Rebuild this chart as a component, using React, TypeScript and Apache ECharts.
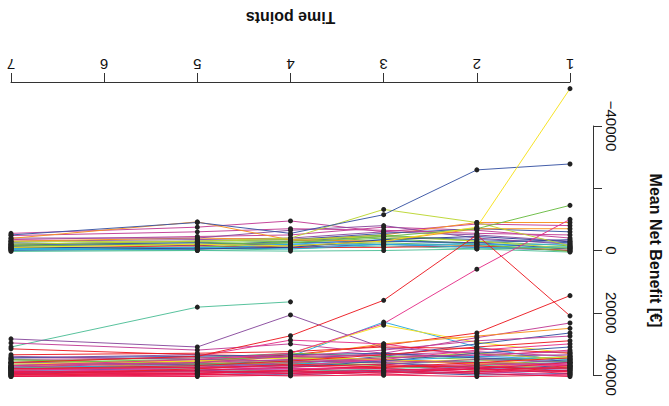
import React, { useEffect, useRef } from "react";
import * as echarts from "echarts";

const timePoints = [1, 2, 3, 4, 5, 7];

const C = {
  yellow: "#f7e21b",
  blue: "#3a55a4",
  navy: "#2e3f94",
  green: "#6cbd45",
  lime: "#bcd631",
  teal: "#4fbf98",
  cyan: "#29a9e0",
  purple: "#8a4c9e",
  magenta: "#c23d96",
  pink: "#e5318a",
  red: "#ec1c24",
  crimson: "#e8174c",
  orange: "#f7901e",
};

// values at time points [1, 2, 3, 4, 5, 7]
const upperGroup: [string, (number | null)[]][] = [
  [C.blue, [-2500, -3500, -4500, -3000, -1500, -2500]],
  [C.cyan, [-1000, -2000, -3500, -2000, -1000, -500]],
  [C.green, [-500, -1500, -2500, -1500, -500, -1000]],
  [C.blue, [0, -1000, -2000, -1000, -500, 0]],
  [C.teal, [500, -500, -1500, -500, 0, -300]],
  [C.purple, [-3000, -5000, -6000, -4000, -3500, -3000]],
  [C.magenta, [-4000, -6500, -7500, -5000, -4500, -3500]],
  [C.magenta, [-8000, -8500, -6000, -9500, -7500, -5500]],
  [C.orange, [-9000, -9000, -5000, -3500, -4000, -3000]],
  [C.blue, [-6000, -7000, -5500, -3500, -3000, -2000]],
  [C.purple, [-2000, -4000, -8000, -6500, -4000, -4000]],
  [C.green, [-1500, -3000, -5000, -3000, -2500, -2000]],
  [C.blue, [-500, -2500, -3000, -2500, -2000, -1500]],
  [C.red, [0, -1500, -1000, -1000, -1500, -800]],
  [C.cyan, [-1000, -1000, -2000, -2000, -500, -200]],
  [C.green, [300, -2000, -4000, -2500, -1000, -1000]],
  [C.blue, [-3500, -2500, -3000, -1500, -2500, -1800]],
  [C.cyan, [-2000, -2000, -2000, -500, -1000, -600]],
  [C.magenta, [-5000, -5500, -6500, -7000, -6000, -4800]],
  [C.lime, [-700, -3000, -4500, -3500, -3000, -2800]],
  [C.orange, [-7000, -7000, -3000, -3400, -9200, -3900]],
  [C.teal, [-1200, -500, 0, 200, 0, 300]],
  [C.navy, [-2800, -4500, -3500, -1000, -500, -1200]],
  [C.lime, [-1500, -9000, -13200, -4000, -3000, -2000]],
  [C.green, [-14500, -7000, -4500, -2500, -2000, -1500]],
  [C.blue, [-27800, -25900, -11500, -5500, -9000, -5000]],
  [C.yellow, [-52000, -7500, -3000, -1500, -2000, -1000]],
];

const lowerGroup: [string, (number | null)[]][] = [
  [C.teal, [null, null, null, 16500, 18200, 31000]],
  [C.purple, [35000, 33000, 31300, 20700, 31000, 28400]],
  [C.magenta, [36000, 34500, 33000, 30000, 32000, 29700]],
  [C.red, [37000, 36000, 35000, 34000, 33500, 31600]],
  [C.cyan, [36000, 31000, 23000, 34000, 35000, 37000]],
  [C.yellow, [33000, 29500, 24000, 33000, 36000, 38000]],
  [C.red, [14500, 26500, 30500, 33500, 35500, 37500]],
  [C.magenta, [23300, 28000, 33000, 35000, 36500, 37800]],
  [C.orange, [25000, 27500, 30000, 34000, 36000, 38500]],
  [C.blue, [26500, 30000, 34000, 36500, 37000, 38000]],
  [C.pink, [32000, 34000, 30000, 28800, 34000, 36000]],
  [C.green, [34500, 35000, 34000, 33000, 34500, 35500]],
  [C.green, [35500, 36500, 35000, 34500, 35000, 36000]],
  [C.blue, [38500, 39500, 38500, 39500, 38500, 38000]],
  [C.blue, [37000, 38000, 36000, 35500, 36500, 36500]],
  [C.cyan, [36000, 37000, 39000, 40000, 39000, 38500]],
  [C.teal, [34000, 35500, 36500, 37000, 37500, 37500]],
  [C.purple, [33500, 34000, 33500, 34500, 33500, 34500]],
  [C.yellow, [37500, 35000, 36000, 36500, 36000, 37000]],
  [C.lime, [35000, 33000, 34500, 35500, 35500, 36000]],
  [C.orange, [38000, 36500, 35000, 36000, 37000, 38500]],
  [C.magenta, [34000, 32500, 33500, 34000, 34500, 35000]],
  [C.purple, [36000, 35000, 36500, 37000, 36500, 36000]],
  [C.blue, [39500, 40000, 39000, 38000, 38500, 39500]],
  [C.green, [37500, 38500, 37000, 36000, 36500, 35000]],
  [C.cyan, [35000, 34000, 35500, 36500, 37000, 37500]],
  [C.blue, [35500, 34500, 33000, 33500, 34000, 34500]],
  [C.teal, [38000, 37000, 38000, 39000, 38000, 37500]],
  [C.yellow, [34000, 36500, 35000, 34500, 35500, 36500]],
  [C.purple, [38500, 37500, 36000, 35500, 35000, 34000]],
  [C.blue, [31000, 33000, 35500, 37500, 38500, 39500]],
  [C.magenta, [27500, 29000, 32000, 34000, 36000, 37500]],
  [C.magenta, [36500, 36000, 35500, 35000, 36000, 37000]],
  [C.pink, [37000, 36500, 37500, 38000, 38500, 39000]],
  [C.red, [33000, 31500, 31000, 32500, 33000, 33500]],
  [C.pink, [36500, 37500, 38500, 39500, 40000, 40000]],
  [C.red, [29000, 31000, 33500, 35500, 37000, 38000]],
  [C.pink, [30000, 32000, 35000, 37000, 38000, 39000]],
  [C.magenta, [32500, 33500, 34500, 36000, 37500, 38500]],
  [C.red, [34500, 36000, 37500, 38500, 39500, 40000]],
  [C.crimson, [38000, 37500, 37000, 38500, 39000, 39500]],
  [C.crimson, [39500, 38000, 38500, 39000, 39500, 40500]],
  [C.crimson, [37500, 38500, 36500, 37500, 38500, 39000]],
  [C.pink, [40000, 39000, 38000, 38000, 37500, 38500]],
  [C.red, [39000, 37000, 37500, 36500, 38000, 40000]],
  [C.crimson, [40500, 39500, 39000, 39500, 40000, 40500]],
  [C.crimson, [39000, 38000, 39500, 38500, 39500, 39800]],
  [C.crimson, [38500, 39000, 38000, 37000, 37500, 38000]],
  [C.crimson, [40000, 40500, 40000, 39000, 39000, 39000]],
  [C.crimson, [36000, 38000, 39000, 40000, 40500, 40300]],
  [C.crimson, [37000, 39000, 40000, 40300, 39800, 39200]],
  [C.red, [21000, -5000, 16000, 27400, 34000, 36000]],
  [C.pink, [-10000, 6000, 23500, 33000, 35000, 37000]],
];

const allLines = [...upperGroup, ...lowerGroup];

export default function App() {
  const ref = useRef<HTMLDivElement>(null);
  useEffect(() => {
    if (!ref.current) return;
    const chart = echarts.init(ref.current, undefined, { renderer: "svg" });
    const lineSeries = allLines.map(([color, vals]) => ({
      type: "line" as const,
      data: timePoints
        .map((t, i) => (vals[i] == null ? null : [t, vals[i]]))
        .filter((d) => d !== null),
      showSymbol: false,
      symbol: "none",
      clip: false,
      silent: true,
      lineStyle: { color, width: 1, opacity: 0.95 },
      z: 2,
    }));
    const points: number[][] = [];
    allLines.forEach(([, vals]) => {
      timePoints.forEach((t, i) => {
        if (vals[i] != null) points.push([t, vals[i] as number]);
      });
    });
    const font = "'Liberation Sans', Arial, sans-serif";
    chart.setOption({
      animation: false,
      backgroundColor: "#ffffff",
      grid: { left: 11, right: 99, top: 126, bottom: 31, containLabel: false, outerBoundsMode: "none" },
      xAxis: {
        type: "value",
        min: 1,
        max: 7,
        interval: 1,
        position: "top",
        offset: 44,
        inverse: true,
        name: "Time points",
        nameLocation: "middle",
        nameRotate: 180,
        nameGap: 57,
        nameTextStyle: { fontFamily: font, fontSize: 16, fontWeight: "bold", color: "#111" },
        axisLine: { show: true, onZero: false, lineStyle: { color: "#333", width: 1 } },
        axisTick: { show: true, length: 9, lineStyle: { color: "#333" } },
        axisLabel: {
          rotate: 180,
          margin: 10,
          fontFamily: font,
          fontSize: 15,
          color: "#111",
          formatter: (v: number) => String(v),
        },
        splitLine: { show: false },
      },
      yAxis: {
        type: "value",
        min: -40000,
        max: 40000,
        interval: 20000,
        position: "right",
        offset: 23,
        inverse: true,
        name: "Mean Net Benefit [€]",
        nameLocation: "middle",
        nameRotate: -90,
        nameGap: 54,
        nameTextStyle: { fontFamily: font, fontSize: 16, fontWeight: "bold", color: "#111" },
        axisLine: { show: true, onZero: false, lineStyle: { color: "#333", width: 1 } },
        axisTick: { show: true, length: 9, lineStyle: { color: "#333" } },
        axisLabel: {
          rotate: -90,
          margin: 11,
          fontFamily: font,
          fontSize: 15,
          color: "#111",
          formatter: (v: number) =>
            v === -20000 ? "" : v < 0 ? "\u2212" + String(-v) : String(v),
        },
        splitLine: { show: false },
      },
      series: [
        ...lineSeries,
        {
          type: "scatter",
          data: points,
          symbol: "circle",
          symbolSize: 5,
          clip: false,
          silent: true,
          itemStyle: { color: "#222", opacity: 1 },
          z: 5,
        },
      ],
    });
    return () => chart.dispose();
  }, []);
  return (
    <div
      ref={ref}
      style={{ position: "fixed", left: 0, top: 0, width: 669, height: 406, background: "#fff" }}
    />
  );
}
